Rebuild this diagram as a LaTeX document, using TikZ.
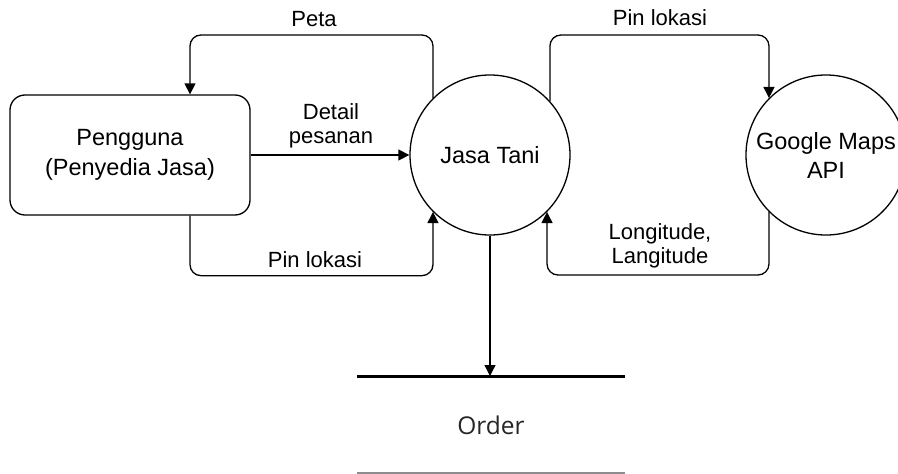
\documentclass[tikz,border=0pt]{standalone}
\usepackage{fontspec}
\setmainfont{Liberation Sans}
\newfontfamily\orderfont{Open Sans}
\usetikzlibrary{arrows.meta,calc}
\begin{document}
\begin{tikzpicture}[x=1pt,y=-1pt,
  flow/.style={draw=black,line width=1.3pt,rounded corners=11pt,-{Triangle[length=11pt,width=11pt]}},
  proc/.style={circle,draw=black,line width=1.3pt,minimum size=160pt,inner sep=0pt,align=center,font=\fontsize{23.5}{29}\selectfont},
  ent/.style={rectangle,rounded corners=15pt,draw=black,line width=1.3pt,minimum width=240pt,minimum height=120pt,inner sep=0pt,align=center,font=\fontsize{23.5}{29.5}\selectfont},
  lbl/.style={inner sep=0pt,align=center,font=\fontsize{22}{24.5}\selectfont}]
\useasboundingbox (0,0) rectangle (898,474);
\node[ent] (pg) at (130,155) {Pengguna\\(Penyedia Jasa)};
\node[proc] (jt) at (490,155) {Jasa Tani};
\node[proc] (gm) at (826,155) {Google Maps\\API};
\coordinate (st) at (490,376);
\coordinate (stl) at (357,376);
\coordinate (str) at (625,376);
\coordinate (sbl) at (357,473);
\coordinate (sbr) at (625,473);
\node[font=\orderfont\fontsize{24.5}{28}\selectfont,text=black!85,inner sep=0pt] (ord) at (491,425) {Order};
% data store lines
\draw[line width=3pt] (stl) -- (str);
\draw[line width=1.5pt,draw=black!45] (sbl) -- (sbr);
% flows
\draw[flow] (jt.135) -- (jt.135 |- 0,35) -| ($(pg.north)+(60,0)$);
\draw[flow] (pg.east) -- (jt.west);
\draw[flow] ($(pg.south)+(60,0)$) -- ++(0,60) -| (jt.225);
\draw[flow] (jt.42) -- (jt.42 |- 0,35) -| (gm.135);
\draw[flow] (gm.225) -- (gm.225 |- 0,275) -| (jt.-45);
\draw[flow,rounded corners=0pt] (jt.south) -- (st);
% labels
\node[lbl] (l1) at (314,19) {Peta};
\node[lbl] (l2) at (331,126) {Detail\\pesanan};
\node[lbl] (l3) at (315,260) {Pin lokasi};
\node[lbl] (l4) at (660,18) {Pin lokasi};
\node[lbl] (l5) at (660,246) {Longitude,\\Langitude};
\end{tikzpicture}
\end{document}
